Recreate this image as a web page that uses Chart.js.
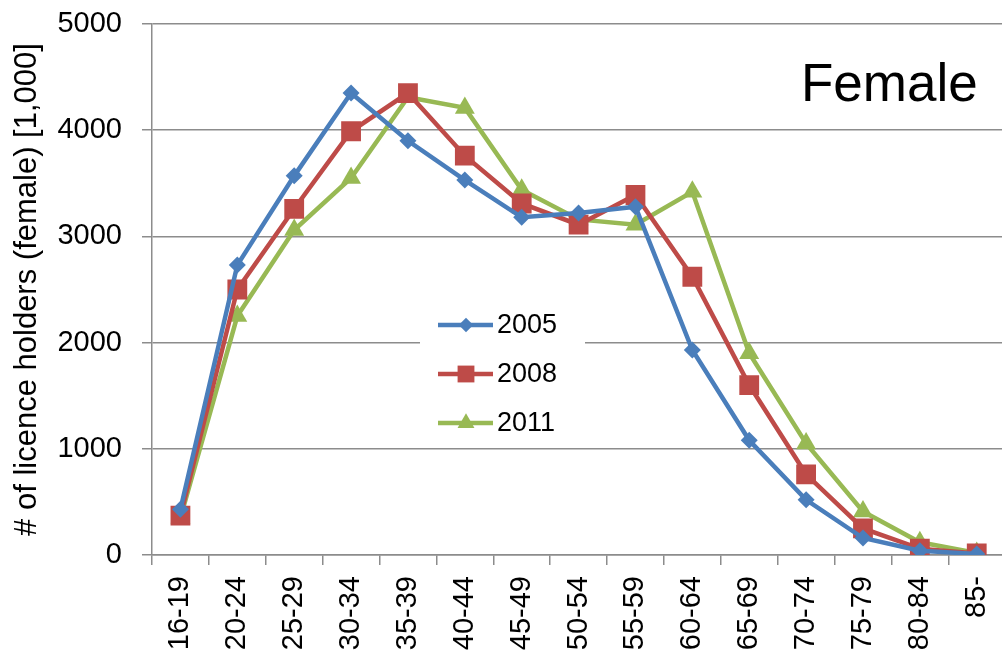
<!DOCTYPE html>
<html>
<head>
<meta charset="utf-8">
<script src="https://cdn.jsdelivr.net/npm/chart.js@4/dist/chart.umd.min.js"></script>
<style>
html,body{margin:0;padding:0;background:#fff;overflow:hidden;}
#wrap{position:relative;width:1023px;height:658px;}
</style>
</head>
<body>
<div id="wrap"><canvas id="c" width="1023" height="658"></canvas></div>
<script>
const categories = ['16-19','20-24','25-29','30-34','35-39','40-44','45-49','50-54','55-59','60-64','65-69','70-74','75-79','80-84','85-'];
const seriesNames = ['2005','2008','2011'];
const values2005 = [430, 2730, 3570, 4350, 3900, 3530, 3180, 3220, 3280, 1930, 1080, 520, 160, 40, 10];
const values2008 = [370, 2500, 3260, 3990, 4350, 3760, 3310, 3110, 3390, 2620, 1600, 760, 250, 60, 15];
const values2011 = [350, 2250, 3060, 3550, 4310, 4210, 3440, 3160, 3110, 3420, 1900, 1050, 410, 120, 20];
const yTicks = [0, 1000, 2000, 3000, 4000, 5000];
const yTitle = '# of licence holders (female) [1,000]';
const panelLabel = 'Female';

const colors = ['#4A7EBB', '#BE4B48', '#98B954'];
const styles = ['rectRot', 'rect', 'triangle'];
const radii = [8.5, 14, 11.5];
const gridColor = '#8c8c8c';

const overlay = {
  id: 'overlay',
  afterDatasetsDraw(chart) {
    const ctx = chart.ctx;
    ctx.save();
    ctx.fillStyle = '#fff';
    ctx.fillRect(420, 300, 165, 140);
    const rows = [325, 374, 423];
    chart.data.datasets.forEach((ds, i) => {
      const y = rows[i];
      ctx.strokeStyle = ds.borderColor;
      ctx.lineWidth = 4.5;
      ctx.beginPath();
      ctx.moveTo(438, y);
      ctx.lineTo(493, y);
      ctx.stroke();
      ctx.fillStyle = ds.backgroundColor;
      Chart.helpers.drawPoint(ctx, {pointStyle: ds.pointStyle, radius: ds.pointRadius * 0.85, borderWidth: 0}, 466, y);
      ctx.fillStyle = '#000';
      ctx.font = '27px "Liberation Sans", Arial, sans-serif';
      ctx.textAlign = 'left';
      ctx.textBaseline = 'middle';
      ctx.fillText(ds.label, 497, y + 1);
    });
    ctx.fillStyle = '#000';
    ctx.font = '53px "Liberation Sans", Arial, sans-serif';
    ctx.textAlign = 'left';
    ctx.textBaseline = 'alphabetic';
    ctx.fillText(panelLabel, 801, 101);
    ctx.restore();
  }
};

const seriesValues = [values2005, values2008, values2011];
const chart = new Chart(document.getElementById('c'), {
  type: 'line',
  data: {
    labels: categories,
    datasets: seriesNames.map((n, i) => ({
      label: n,
      data: seriesValues[i],
      borderColor: colors[i],
      backgroundColor: colors[i],
      borderWidth: 4.5,
      pointStyle: styles[i],
      pointRadius: radii[i],
      pointBorderWidth: 0,
      tension: 0
    }))
  },
  options: {
    responsive: false,
    animation: false,
    devicePixelRatio: 1,
    layout: {padding: {top: 24, left: 0, right: 0, bottom: 0}},
    plugins: {legend: {display: false}, tooltip: {enabled: false}},
    scales: {
      x: {
        type: 'category',
        offset: true,
        grid: {display: true, drawOnChartArea: false, offset: true, tickLength: 10, color: gridColor, lineWidth: 1.5},
        border: {color: gridColor, width: 1.5},
        ticks: {
          color: '#000', padding: 11, minRotation: 90, maxRotation: 90, autoSkip: false,
          font: {family: '"Liberation Sans", Arial, sans-serif', size: 29}
        },
        afterFit(s) { s.height = 103; }
      },
      y: {
        min: 0, max: 5000,
        afterBuildTicks(s) { s.ticks = yTicks.map(v => ({value: v})); },
        grid: {color: gridColor, lineWidth: 1.5, tickLength: 10},
        border: {color: gridColor, width: 1.5},
        ticks: {
          color: '#000', padding: 20,
          callback: v => String(v),
          font: {family: '"Liberation Sans", Arial, sans-serif', size: 29}
        },
        title: {
          display: true, text: yTitle, color: '#000',
          font: {family: '"Liberation Sans", Arial, sans-serif', size: 31, weight: 'normal'},
          padding: {top: 9, bottom: 0}
        },
        afterFit(s) { s.width = 152; s.paddingTop = 0; s.paddingBottom = 0; }
      }
    }
  },
  plugins: [overlay]
});
</script>
</body>
</html>
